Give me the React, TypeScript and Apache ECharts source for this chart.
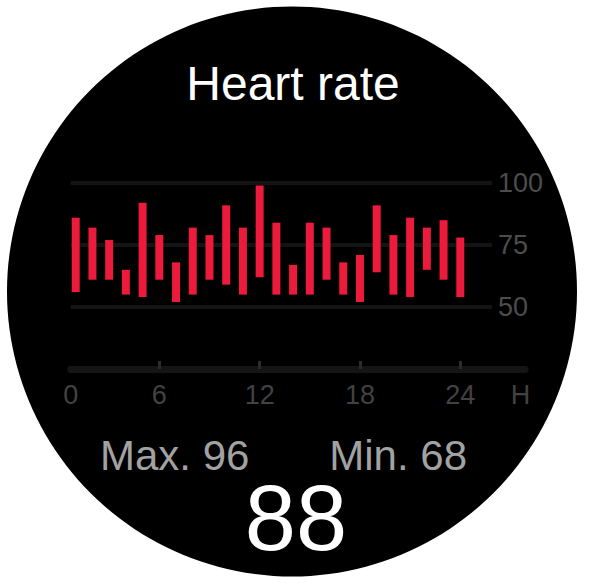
import React, { useEffect, useRef } from "react";
import * as echarts from "echarts";

const hours = [1, 2, 3, 4, 5, 6, 7, 8, 9, 10, 11, 12, 13, 14, 15, 16, 17, 18, 19, 20, 21, 22, 23, 24];
const lows = [56, 61, 61, 55, 54, 61, 52, 55, 61, 59, 55, 62, 55, 55, 55, 61, 55, 52, 64, 55, 54, 65, 61, 54];
const highs = [86, 82, 77, 65, 92, 79, 68, 82, 79, 91, 82, 99, 84, 67, 84, 82, 68, 71, 91, 79, 86, 82, 85, 78];
const xLabelValues = [0.7, 6, 12, 18, 24, 27.6];
const xLabelTexts = ["0", "6", "12", "18", "24", "H"];
const xTickValues = [6, 12, 18, 24];
const titleText = "Heart rate";
const maxText = "Max. 96";
const minText = "Min. 68";
const currentText = "88";

export default function App() {
  const ref = useRef<HTMLDivElement>(null);
  useEffect(() => {
    const chart = echarts.init(ref.current!, null, { renderer: "svg" });
    const font = '"Liberation Sans", Arial, sans-serif';
    chart.setOption({
      animation: false,
      backgroundColor: "#ffffff",
      grid: [
        { left: 70.7, width: 454.3, top: 183, height: 186 },
        { left: 70.7, width: 421.3, top: 183, height: 186 },
      ],
      xAxis: [
        {
          type: "value",
          gridIndex: 0,
          min: 0.7,
          max: 27.87,
          splitLine: { show: false },
          axisLine: { show: true, lineStyle: { color: "#151515", width: 7 } },
          axisTick: {
            show: true,
            inside: true,
            length: 8,
            customValues: xTickValues,
            lineStyle: { color: "#2c2c2c", width: 3 },
          },
          axisLabel: {
            customValues: xLabelValues,
            formatter: (v: number) => {
              const i = xLabelValues.indexOf(v);
              return i >= 0 ? xLabelTexts[i] : "";
            },
            color: "#424242",
            fontSize: 27,
            fontFamily: font,
            margin: 12,
          },
        },
        { type: "value", gridIndex: 1, min: 0.7, max: 26.6, show: false },
      ],
      yAxis: [
        { type: "value", gridIndex: 0, min: 25, max: 100, show: false },
        {
          type: "value",
          gridIndex: 1,
          min: 25,
          max: 100,
          interval: 25,
          position: "right",
          axisLine: { show: false },
          axisTick: { show: false },
          splitLine: { show: true, lineStyle: { color: "#141414", width: 4 } },
          axisLabel: {
            color: "#4c4c4c",
            fontSize: 27,
            fontFamily: font,
            margin: 6,
            formatter: (v: number) => (v === 25 ? "" : String(v)),
          },
        },
      ],
      series: [
        {
          type: "custom",
          xAxisIndex: 0,
          yAxisIndex: 0,
          data: hours.map((h, i) => [h, lows[i], highs[i]]),
          encode: { x: 0, y: [1, 2] },
          renderItem: (params: any, api: any) => {
            const x = api.value(0);
            const top = api.coord([x, api.value(2)]);
            const bot = api.coord([x, api.value(1)]);
            return {
              type: "rect",
              shape: { x: top[0] - 4, y: top[1], width: 8, height: bot[1] - top[1] },
              style: { fill: "#ec1a3b" },
            };
          },
          z: 5,
        },
      ],
      graphic: [
        {
          type: "circle",
          z: -100,
          shape: { cx: 292, cy: 291.5, r: 285 },
          style: { fill: "#000000" },
        },
        {
          type: "text",
          z: 100,
          x: 293,
          y: 83,
          style: {
            text: titleText,
            fill: "#ffffff",
            fontSize: 48,
            fontFamily: font,
            align: "center",
            verticalAlign: "middle",
          },
        },
        {
          type: "text",
          z: 100,
          x: 100,
          y: 455,
          style: {
            text: maxText,
            fill: "#a2a2a2",
            fontSize: 42,
            fontFamily: font,
            align: "left",
            verticalAlign: "middle",
          },
        },
        {
          type: "text",
          z: 100,
          x: 467,
          y: 455,
          style: {
            text: minText,
            fill: "#a2a2a2",
            fontSize: 42,
            fontFamily: font,
            align: "right",
            verticalAlign: "middle",
          },
        },
        {
          type: "text",
          z: 100,
          x: 296,
          y: 518,
          style: {
            text: currentText,
            fill: "#ffffff",
            fontSize: 92,
            fontFamily: font,
            align: "center",
            verticalAlign: "middle",
          },
        },
      ],
    });
    return () => chart.dispose();
  }, []);
  return (
    <div
      ref={ref}
      style={{ position: "fixed", left: 0, top: 0, width: 594, height: 584 }}
    />
  );
}
